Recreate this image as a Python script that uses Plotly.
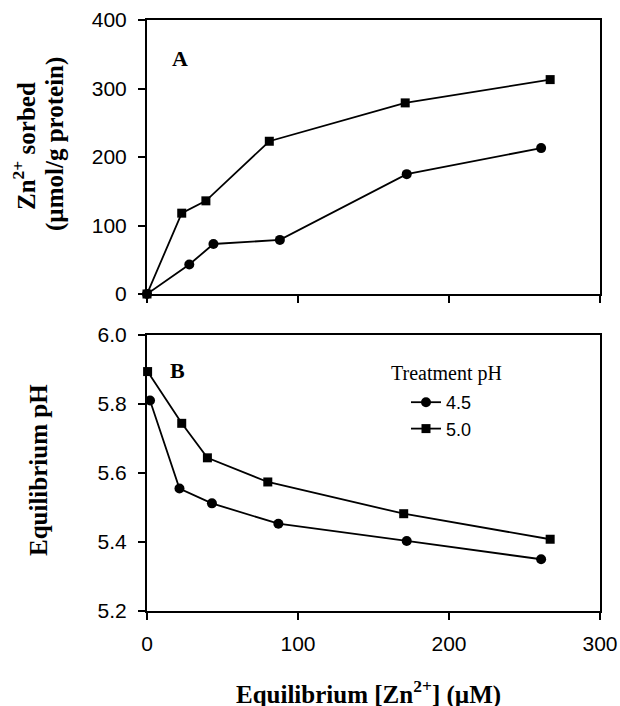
import plotly.graph_objects as go

# Panel A: Zn sorbed vs equilibrium Zn
a_x_45 = [0, 28, 44, 88, 172, 261]
a_y_45 = [0, 43, 73, 79, 175, 213]
a_x_50 = [0, 23, 39, 81, 171, 267]
a_y_50 = [0, 118, 136, 223, 279, 313]

# Panel B: equilibrium pH vs equilibrium Zn
b_x_45 = [2, 21.5, 43, 87, 172, 261]
b_y_45 = [5.81, 5.555, 5.512, 5.453, 5.403, 5.35]
b_x_50 = [0.4, 23, 40, 80, 170, 267]
b_y_50 = [5.894, 5.744, 5.644, 5.574, 5.482, 5.408]

series_names = ["4.5", "5.0"]
legend_title = "Treatment pH"

W, H = 620, 706
def px_x(p): return p / W
def px_y(p): return (H - p) / H

fig = go.Figure()
line = dict(color="black", width=1.8)
circ = dict(symbol="circle", size=10, color="black")
sq = dict(symbol="square", size=9, color="black")

fig.add_trace(go.Scatter(x=a_x_45, y=a_y_45, mode="lines+markers", line=line, marker=circ,
                         showlegend=False, cliponaxis=False, xaxis="x", yaxis="y"))
fig.add_trace(go.Scatter(x=a_x_50, y=a_y_50, mode="lines+markers", line=line, marker=sq,
                         showlegend=False, cliponaxis=False, xaxis="x", yaxis="y"))
fig.add_trace(go.Scatter(x=b_x_45, y=b_y_45, mode="lines+markers", line=line, marker=circ,
                         name=series_names[0], cliponaxis=False, xaxis="x2", yaxis="y2"))
fig.add_trace(go.Scatter(x=b_x_50, y=b_y_50, mode="lines+markers", line=line, marker=sq,
                         name=series_names[1], cliponaxis=False, xaxis="x2", yaxis="y2"))

tickfont = dict(family="Liberation Sans, Arial", size=21, color="black")
axcommon = dict(showline=True, linecolor="black", linewidth=2, mirror=True, ticks="outside",
                ticklen=7, tickwidth=2, tickcolor="black", showgrid=False, zeroline=False,
                tickfont=tickfont, automargin=False)
xdom = [px_x(147), px_x(600)]

fig.update_layout(
    width=W, height=H, autosize=False,
    margin=dict(l=0, r=0, t=0, b=0, pad=0, autoexpand=False),
    paper_bgcolor="white", plot_bgcolor="white",
    xaxis=dict(domain=xdom, range=[0, 300], dtick=100, showticklabels=False, anchor="y", **axcommon),
    yaxis=dict(domain=[px_y(294), px_y(20)], range=[0, 400], dtick=100, anchor="x",
               ticklabelstandoff=7, **axcommon),
    xaxis2=dict(domain=xdom, range=[0, 300], dtick=100, anchor="y2", ticklabelstandoff=6, **axcommon),
    yaxis2=dict(domain=[px_y(611), px_y(335)], range=[5.2, 6.0], dtick=0.2, tickformat=".1f",
                anchor="x2", ticklabelstandoff=7, **axcommon),
    legend=dict(x=px_x(406), y=px_y(384), xanchor="left", yanchor="top",
                bgcolor="rgba(0,0,0,0)",
                font=dict(family="Liberation Sans, Arial", size=18, color="black"),
                itemwidth=30, tracegroupgap=0),
)

serif_b = dict(family="Liberation Serif, Times New Roman", size=25, color="black")
lab = dict(family="Liberation Serif, Times New Roman", size=22, color="black")
def note(text, x, y, font, angle=0):
    return dict(text=text, x=px_x(x), y=px_y(y), xref="paper", yref="paper", showarrow=False,
                xanchor="center", yanchor="middle", textangle=angle, font=font)

ann = [
    note("<b>A</b>", 180, 58, lab),
    note("<b>B</b>", 177, 370, lab),
    note("<b>Zn<sup>2+</sup> sorbed</b>", 24, 146, serif_b, -90),
    note("<b>(µmol/g protein)</b>", 55, 144, serif_b, -90),
    note("<b>Equilibrium pH</b>", 38, 470, serif_b, -90),
    note("<b>Equilibrium [Zn<sup>2+</sup>] (µM)</b>", 368, 692, serif_b),
    note(legend_title, 446, 373, dict(family="Liberation Serif, Times New Roman", size=20, color="black")),
]
fig.update_layout(annotations=ann)

fig.write_html("out.html", config={"displayModeBar": False},
               post_script="document.body.style.margin='0';document.body.style.overflow='hidden';")
